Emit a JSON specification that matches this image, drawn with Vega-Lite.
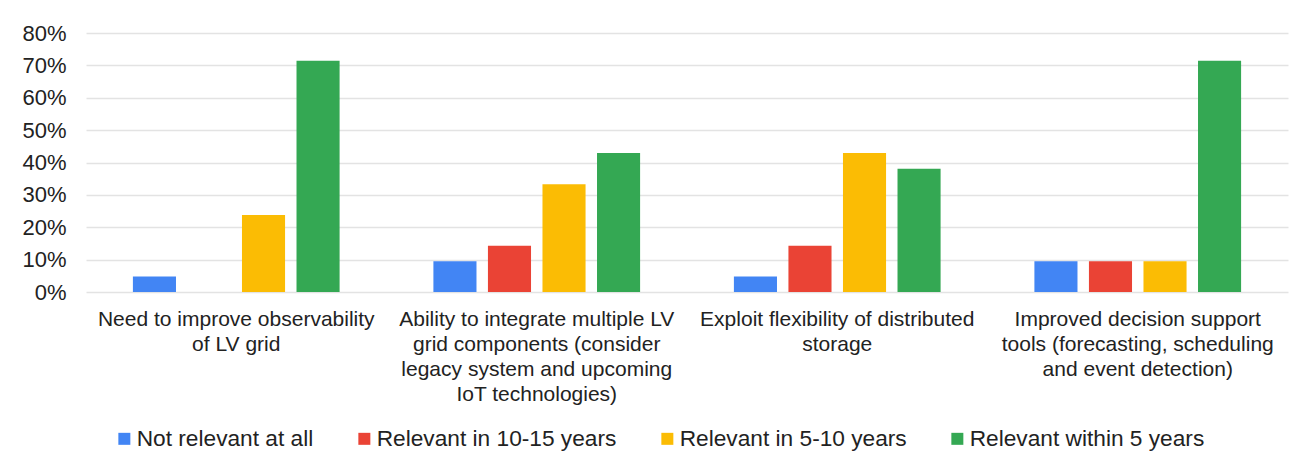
{
  "$schema": "https://vega.github.io/schema/vega-lite/v6.json",
  "width": 1202,
  "height": 259,
  "autosize": {"type": "none"},
  "padding": {"left": 86, "top": 33, "right": 22, "bottom": 173},
  "background": "white",
  "data": {
    "values": [
      {"category": "Need to improve observability|of LV grid", "series": "Not relevant at all", "value": 0.0476},
      {"category": "Need to improve observability|of LV grid", "series": "Relevant in 10-15 years", "value": 0},
      {"category": "Need to improve observability|of LV grid", "series": "Relevant in 5-10 years", "value": 0.238},
      {"category": "Need to improve observability|of LV grid", "series": "Relevant within 5 years", "value": 0.714},
      {"category": "Ability to integrate multiple LV|grid components (consider|legacy system and upcoming|IoT technologies)", "series": "Not relevant at all", "value": 0.0952},
      {"category": "Ability to integrate multiple LV|grid components (consider|legacy system and upcoming|IoT technologies)", "series": "Relevant in 10-15 years", "value": 0.143},
      {"category": "Ability to integrate multiple LV|grid components (consider|legacy system and upcoming|IoT technologies)", "series": "Relevant in 5-10 years", "value": 0.333},
      {"category": "Ability to integrate multiple LV|grid components (consider|legacy system and upcoming|IoT technologies)", "series": "Relevant within 5 years", "value": 0.429},
      {"category": "Exploit flexibility of distributed|storage", "series": "Not relevant at all", "value": 0.0476},
      {"category": "Exploit flexibility of distributed|storage", "series": "Relevant in 10-15 years", "value": 0.143},
      {"category": "Exploit flexibility of distributed|storage", "series": "Relevant in 5-10 years", "value": 0.429},
      {"category": "Exploit flexibility of distributed|storage", "series": "Relevant within 5 years", "value": 0.381},
      {"category": "Improved decision support|tools (forecasting, scheduling|and event detection)", "series": "Not relevant at all", "value": 0.0952},
      {"category": "Improved decision support|tools (forecasting, scheduling|and event detection)", "series": "Relevant in 10-15 years", "value": 0.0952},
      {"category": "Improved decision support|tools (forecasting, scheduling|and event detection)", "series": "Relevant in 5-10 years", "value": 0.0952},
      {"category": "Improved decision support|tools (forecasting, scheduling|and event detection)", "series": "Relevant within 5 years", "value": 0.714}
    ]
  },
  "mark": {"type": "bar"},
  "encoding": {
    "x": {
      "field": "category",
      "type": "nominal",
      "sort": null,
      "scale": {"paddingInner": 0, "paddingOuter": 0},
      "axis": {
        "title": null,
        "labelAngle": 0,
        "labelExpr": "split(datum.label, '|')",
        "labelFont": "Liberation Sans",
        "labelFontSize": 21,
        "labelColor": "#222222",
        "labelLineHeight": 25,
        "labelPadding": 16,
        "labelBaseline": "top",
        "labelLimit": 0,
        "ticks": false,
        "domain": false,
        "grid": false
      }
    },
    "xOffset": {
      "field": "series",
      "type": "nominal",
      "sort": null,
      "scale": {"paddingInner": 0.21, "paddingOuter": 0.86}
    },
    "y": {
      "field": "value",
      "type": "quantitative",
      "scale": {"domain": [0, 0.8]},
      "axis": {
        "title": null,
        "format": ".0%",
        "values": [0, 0.1, 0.2, 0.3, 0.4, 0.5, 0.6, 0.7, 0.8],
        "labelFont": "Liberation Sans",
        "labelFontSize": 22,
        "labelColor": "#222222",
        "labelPadding": 20,
        "ticks": false,
        "domain": false,
        "gridColor": "#e3e3e3",
        "gridWidth": 1.5
      }
    },
    "color": {
      "field": "series",
      "type": "nominal",
      "sort": null,
      "scale": {
        "domain": ["Not relevant at all", "Relevant in 10-15 years", "Relevant in 5-10 years", "Relevant within 5 years"],
        "range": ["#4285F4", "#EA4335", "#FBBC04", "#34A853"]
      },
      "legend": {
        "title": null,
        "orient": "none",
        "direction": "horizontal",
        "legendX": 27,
        "legendY": 394,
        "symbolType": "square",
        "symbolSize": 144,
        "symbolStrokeWidth": 0,
        "labelFont": "Liberation Sans",
        "labelFontSize": 22.7,
        "labelColor": "#222222",
        "labelOffset": 1,
        "columnPadding": 39,
        "labelLimit": 0
      }
    }
  },
  "config": {
    "view": {"stroke": null}
  }
}
